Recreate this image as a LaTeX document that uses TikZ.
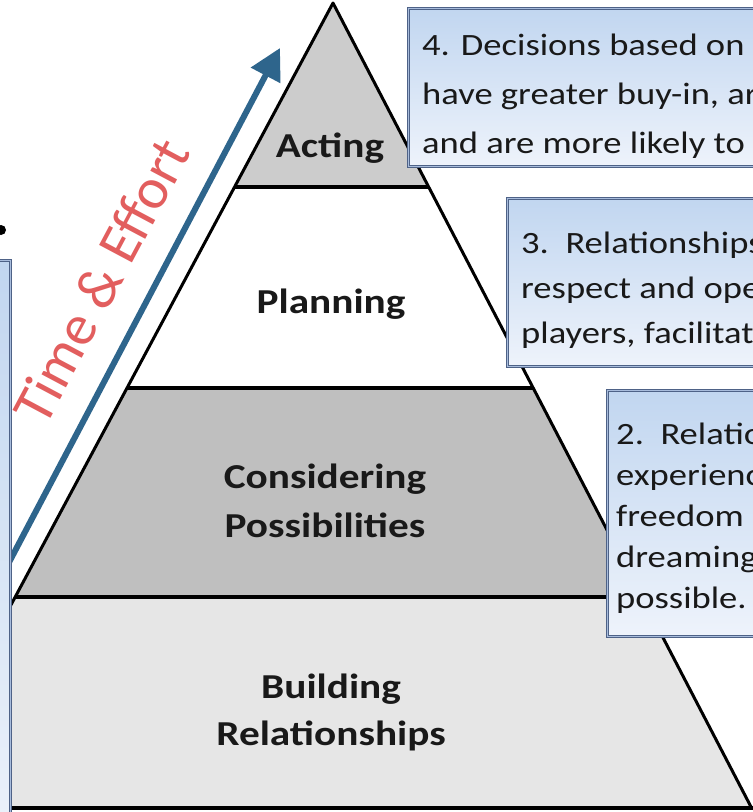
\documentclass[tikz,border=0pt]{standalone}
\usepackage{fontspec}
\setmainfont{Carlito}
\newfontfamily\widefont[FakeStretch=1.18]{Carlito}
\usetikzlibrary{arrows.meta}
\definecolor{actgray}{RGB}{204,204,204}
\definecolor{congray}{RGB}{191,191,191}
\definecolor{bldgray}{RGB}{230,230,230}
\definecolor{arrowblue}{RGB}{46,101,140}
\definecolor{effortred}{RGB}{226,94,94}
\definecolor{boxtop}{RGB}{193,214,240}
\definecolor{boxbot}{RGB}{238,243,251}
\definecolor{boxline}{RGB}{78,98,135}
\definecolor{boxband}{RGB}{168,188,220}
\tikzset{
  edge/.style={line width=3pt, black, line join=round},
  divider/.style={line width=4pt, black},
  infobox/.style={draw=boxline, double=boxband, double distance=1.6pt, line width=1.1pt,
    top color=boxtop, bottom color=boxbot, inner sep=0pt, anchor=north west},
  boxtext/.style={font=\widefont\fontsize{31}{31}\selectfont, text=black!90, inner sep=0pt, anchor=base west},
  lab/.style={font=\widefont\bfseries\fontsize{35}{35}\selectfont, text=black!90, inner sep=0pt, anchor=base},
}
\begin{document}
\begin{tikzpicture}[x=1pt,y=-1pt]
\path[use as bounding box] (0,0) rectangle (753,812);
\clip (0,0) rectangle (753,812);
\fill[white] (0,0) rectangle (753,812);
% pyramid layers (left slope 0.535, right slope 0.52, apex 333,3)
\coordinate (apex) at (333,3);
\coordinate (l1) at (234.6,187); \coordinate (r1) at (428.7,187);
\coordinate (l2) at (127.1,388); \coordinate (r2) at (533.2,388);
\coordinate (l3) at (15.2,597);  \coordinate (r3) at (641.9,597);
\coordinate (l4) at (-97.7,808); \coordinate (r4) at (751.6,808);
\fill[actgray] (apex) -- (r1) -- (l1) -- cycle;
\fill[white] (l1) -- (r1) -- (r2) -- (l2) -- cycle;
\fill[congray] (l2) -- (r2) -- (r3) -- (l3) -- cycle;
\fill[bldgray] (l3) -- (r3) -- (r4) -- (l4) -- cycle;
\draw[edge] (l4) -- (apex) -- (r4);
\draw[divider] (l1) -- (r1);
\draw[divider] (l2) -- (r2);
\draw[divider] (l3) -- (r3);
\draw[divider] (-20,808) -- (760,808);
% labels
\node[lab] (acting) at (330,157) {Acting};
\node[lab] (planning) at (331,313) {Planning};
\node[lab] (consid1) at (325,488) {Considering};
\node[lab] (consid2) at (325,537) {Possibilities};
\node[lab] (build1) at (331,698) {Building};
\node[lab] (build2) at (331,745) {Relationships};
% arrow and its text
\coordinate (arrS) at (-14,606);
\coordinate (arrE) at (280,48);
\draw[arrowblue, line width=6pt, -{Triangle[length=31pt,width=32pt]}] (arrS) -- (arrE);
\node[font=\fontsize{58}{58}\selectfont, text=effortred, rotate=62, inner sep=0pt] (effort) at (101,281) {Time \& Effort};
% info boxes
\node[infobox, minimum width=420pt, minimum height=158pt] (box4) at (408,8) {};
\node[boxtext] (b4a) at (422,55) {4. Decisions based on};
\node[boxtext] (b4b) at (422,104) {have greater buy-in, are};
\node[boxtext] (b4c) at (422,153) {and are more likely to};
\node[infobox, minimum width=320pt, minimum height=168pt] (box3) at (507,198) {};
\node[boxtext] (b3a) at (521,253) {3.\ \ Relationships};
\node[boxtext] (b3b) at (521,298) {respect and ope};
\node[boxtext] (b3c) at (521,343) {players, facilitat};
\node[infobox, minimum width=220pt, minimum height=246pt] (box2) at (607,390) {};
\node[boxtext] (b2a) at (616,444) {2.\ \ Relation};
\node[boxtext] (b2b) at (616,485) {experience};
\node[boxtext] (b2c) at (616,526) {freedom};
\node[boxtext] (b2d) at (616,567) {dreaming};
\node[boxtext] (b2e) at (616,608) {possible.};
% left box and bullet
\node[infobox, minimum width=40pt, minimum height=600pt] (box1) at (-30,260) {};
\fill[black] (1,230) circle (5pt) node (bullet) {};
\end{tikzpicture}
\end{document}
